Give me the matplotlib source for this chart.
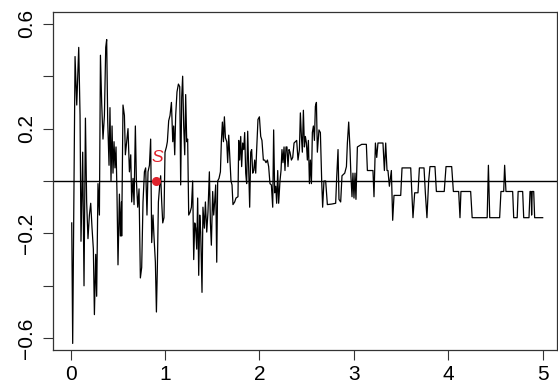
import numpy as np
import matplotlib.pyplot as plt

plt.rcParams['font.family'] = ['Liberation Sans', 'DejaVu Sans']

# series in pieces (time, value)
t_a = [0.011, 0.021, 0.046, 0.064, 0.085, 0.099, 0.109, 0.127, 0.141, 0.156,
       0.169, 0.183, 0.198, 0.212, 0.226, 0.240, 0.251, 0.265, 0.275, 0.289,
       0.304, 0.315, 0.328, 0.342, 0.357, 0.371, 0.381, 0.392, 0.406, 0.416,
       0.427, 0.438, 0.448, 0.459, 0.469, 0.480, 0.490, 0.501, 0.516, 0.526,
       0.537]
v_a = [-0.16, -0.62, 0.475, 0.29, 0.51, 0.25, -0.23, 0.11, -0.40, 0.24,
       -0.08, -0.22, -0.13, -0.085, -0.18, -0.26, -0.51, -0.28, -0.44, -0.01,
       -0.13, 0.48, 0.30, 0.16, 0.25, 0.51, 0.54, 0.23, 0.06, 0.28,
       0.0, 0.21, 0.03, 0.15, 0.05, 0.13, -0.04, -0.32, -0.05, -0.21,
       -0.08]

t_b = [0.540, 0.554, 0.569, 0.579, 0.593, 0.607, 0.622, 0.636, 0.646, 0.660,
       0.671, 0.685, 0.696, 0.710, 0.724, 0.738, 0.752, 0.766, 0.781, 0.794,
       0.808, 0.819, 0.834, 0.847, 0.858, 0.872, 0.882, 0.897, 0.908, 0.918,
       0.929, 0.943, 0.953, 0.964, 0.975, 0.988, 0.999, 1.014, 1.024, 1.038,
       1.052, 1.067, 1.081, 1.091, 1.102, 1.112, 1.126, 1.141, 1.155]
v_b = [-0.21, 0.29, 0.25, 0.10, 0.15, 0.20, 0.035, 0.10, -0.08, 0.01,
       -0.09, 0.21, 0.0, -0.10, -0.03, -0.37, -0.33, -0.08, 0.035, 0.05,
       -0.13, 0.035, 0.06, 0.16, -0.235, -0.13, -0.21, -0.31, -0.50, -0.33,
       -0.08, -0.015, 0.02, -0.08, -0.16, -0.14, 0.11, 0.13, 0.15, 0.23,
       0.25, 0.30, 0.15, 0.21, 0.10, 0.25, 0.34, 0.37, 0.36]

t_c = [1.165, 1.176, 1.186, 1.197, 1.208, 1.218, 1.229, 1.239, 1.250, 1.264,
       1.279, 1.292, 1.303, 1.314, 1.324, 1.335, 1.345, 1.356, 1.367, 1.377,
       1.391, 1.401, 1.416, 1.427, 1.441, 1.454, 1.469, 1.480, 1.490, 1.504,
       1.515, 1.525, 1.536, 1.547, 1.557, 1.571, 1.586, 1.596, 1.607, 1.618,
       1.628, 1.639, 1.653, 1.663, 1.674, 1.684, 1.698, 1.709, 1.719, 1.737,
       1.751, 1.772]
v_c = [-0.015, 0.32, 0.40, 0.21, 0.10, 0.33, 0.15, 0.16, -0.13, -0.12,
       -0.10, 0.0, -0.30, -0.16, -0.18, -0.26, -0.065, -0.36, -0.13, -0.195,
       -0.425, -0.10, -0.18, -0.08, -0.195, -0.12, 0.035, -0.16, -0.245, -0.04,
       -0.13, -0.08, -0.015, -0.31, 0.0, 0.01, 0.035, 0.15, 0.225, 0.15,
       0.245, 0.165, 0.15, 0.07, 0.175, 0.10, 0.0, -0.015, -0.09, -0.08,
       -0.065, -0.06]

t_d = [1.780, 1.790, 1.801, 1.811, 1.822, 1.833, 1.843, 1.854, 1.864, 1.875,
       1.886, 1.896, 1.907, 1.917, 1.928, 1.939, 1.949, 1.960, 1.970,
       1.984, 1.999, 2.013, 2.026, 2.041, 2.055, 2.069, 2.084, 2.097, 2.111,
       2.126, 2.140, 2.150, 2.161, 2.172, 2.182, 2.193, 2.203,
       2.217, 2.228, 2.238, 2.249, 2.260, 2.270, 2.281, 2.291, 2.302, 2.313,
       2.323, 2.338, 2.352, 2.366, 2.380, 2.394, 2.408, 2.423,
       2.433, 2.444, 2.454, 2.465, 2.476, 2.486, 2.497, 2.507, 2.518, 2.529,
       2.539, 2.550, 2.560, 2.571, 2.582, 2.592, 2.603]
v_d = [0.155, 0.08, 0.17, 0.055, 0.145, 0.12, 0.185, 0.03, -0.01, 0.19,
       0.04, -0.10, 0.11, 0.12, 0.03, 0.04, 0.08, 0.03, 0.12,
       0.235, 0.245, 0.17, 0.155, 0.08, 0.08, 0.07, 0.08, 0.055, -0.01,
       -0.015, -0.10, 0.195, -0.045, -0.02, -0.085, 0.04, -0.085,
       0.0, 0.04, 0.12, 0.07, 0.13, 0.04, 0.13, 0.13, 0.055, 0.12,
       0.11, 0.08, 0.09, 0.145, 0.15, 0.155, 0.08, 0.12,
       0.26, 0.17, 0.11, 0.27, 0.13, 0.17, 0.145, 0.08, 0.155, -0.01,
       0.08, -0.01, 0.185, 0.21, 0.155, 0.285, 0.30]

t_e = [2.613, 2.630, 2.645, 2.659, 2.669, 2.683, 2.701, 2.719, 2.765, 2.807,
       2.818, 2.832, 2.842, 2.860, 2.874, 2.903, 2.921, 2.931, 2.945, 2.959,
       2.969, 2.980, 2.990, 3.001, 3.012, 3.022, 3.037, 3.083, 3.132, 3.143,
       3.202, 3.213, 3.228, 3.242, 3.255, 3.308, 3.323, 3.337, 3.351, 3.361,
       3.376, 3.397, 3.411, 3.425, 3.496, 3.510, 3.602, 3.626, 3.644, 3.679,
       3.694, 3.743, 3.757, 3.774]
v_e = [0.11, 0.195, 0.185, 0.0, -0.10, 0.0, 0.0, -0.09, -0.088, -0.085,
       0.015, 0.12, -0.07, -0.08, 0.02, 0.03, 0.055, 0.145, 0.225, 0.12,
       0.015, -0.06, 0.03, -0.065, 0.03, -0.07, 0.13, 0.14, 0.14, 0.04,
       0.04, -0.06, 0.145, 0.09, 0.145, 0.145, 0.04, 0.145, 0.04, 0.04,
       -0.02, 0.04, -0.15, -0.055, -0.055, 0.05, 0.05, -0.14, -0.045, -0.045,
       0.05, 0.05, -0.045, -0.14]

t_f = [3.792, 3.806, 3.859, 3.874, 3.957, 3.976, 4.036, 4.054, 4.110, 4.124,
       4.134, 4.237, 4.253, 4.412, 4.425, 4.439, 4.544, 4.558, 4.587, 4.597,
       4.611, 4.682, 4.693, 4.730, 4.740, 4.788, 4.799, 4.855, 4.866, 4.878,
       4.883, 4.889, 4.905, 4.915, 5.000]
v_f = [0.0, 0.055, 0.055, -0.04, -0.04, 0.055, 0.055, -0.04, -0.04, -0.14,
       -0.04, -0.04, -0.14, -0.14, 0.06, -0.14, -0.14, -0.04, -0.04, 0.06,
       -0.04, -0.04, -0.14, -0.14, -0.04, -0.04, -0.14, -0.14, -0.04, -0.04,
       -0.13, -0.04, -0.04, -0.14, -0.14]

# highlighted point
s_t, s_v = 0.907, 0.0
s_label = 'S'

yticks = [-0.6, -0.4, -0.2, 0.0, 0.2, 0.4, 0.6]
ylabels = ['\u22120.6', '', '\u22120.2', '', '0.2', '', '0.6']
xticks = [0, 1, 2, 3, 4, 5]

t = np.concatenate([t_a, t_b, t_c, t_d, t_e, t_f])
v = np.concatenate([v_a, v_b, v_c, v_d, v_e, v_f])

fig = plt.figure(figsize=(5.58, 3.9), dpi=100)
ax = fig.add_axes([0.0944, 0.1026, 0.9991 - 0.0944, 0.9685 - 0.1026])

ax.plot(t, v, color='black', lw=0.9)
ax.axhline(0, color='black', lw=1.0)
ax.plot(s_t, s_v, 'o', color='#e0222c', ms=5.5, zorder=3)
ax.text(s_t + 0.01, s_v + 0.088, s_label, color='#e0222c', style='italic',
        fontsize=12.5, ha='center', va='center')

ax.set_xlim(-0.191, 5.157)
ax.set_ylim(-0.645, 0.644)
ax.set_xticks(xticks)
ax.set_xticklabels([str(x) for x in xticks])
ax.set_yticks(yticks)
ax.set_yticklabels(ylabels, rotation=90, va='center')

ax.tick_params(direction='out', length=7, width=0.8, labelsize=15,
               color='#333333')
ax.tick_params(axis='x', pad=4)
ax.tick_params(axis='y', pad=5)
for sp in ax.spines.values():
    sp.set_linewidth(0.9)
    sp.set_color('#333333')

fig.savefig('out.png', dpi=100)
